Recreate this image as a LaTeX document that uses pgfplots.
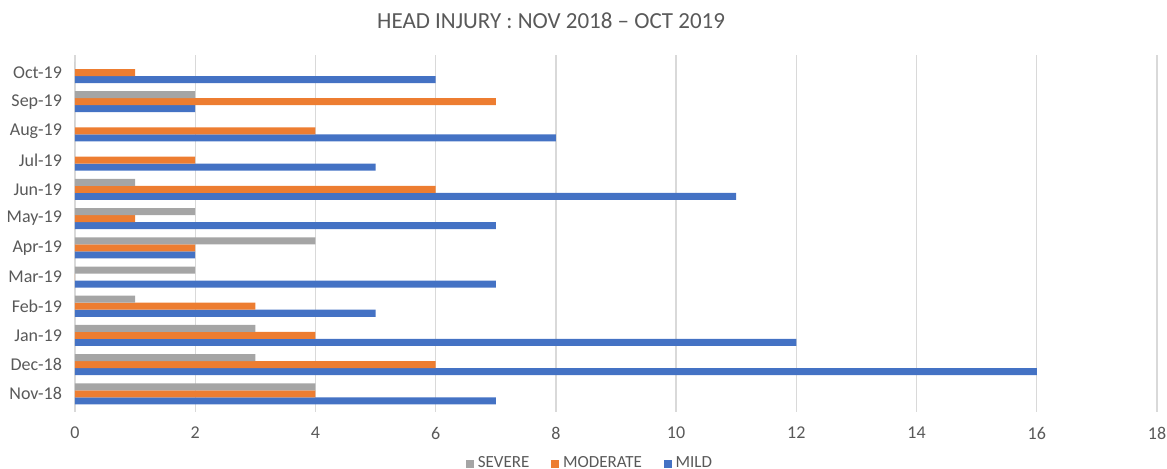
\documentclass[border=0pt]{standalone}
\usepackage{pgfplots}
\pgfplotsset{compat=1.18}
\usepackage{fontspec}
\setmainfont{Carlito}
\definecolor{cblue}{HTML}{4472C4}
\definecolor{corange}{HTML}{ED7D31}
\definecolor{cgray}{HTML}{A5A5A5}
\definecolor{tgray}{HTML}{595959}
\definecolor{ggray}{HTML}{D9D9D9}
\begin{document}
\begin{tikzpicture}
\useasboundingbox (-37.5pt,-28.5pt) rectangle (546pt,206pt);
\begin{axis}[
  at={(0,0)}, anchor=south west,
  scale only axis, width=541pt, height=178.5pt,
  xbar=0pt, bar width=0.24,
  xmin=0, xmax=18, ymin=-0.62, ymax=11.6,
  xtick={0,2,...,18},
  ytick={0,...,11},
  yticklabels={Nov-18,Dec-18,Jan-19,Feb-19,Mar-19,Apr-19,May-19,Jun-19,Jul-19,Aug-19,Sep-19,Oct-19},
  axis line style={draw=none},
  major tick length=0pt,
  xmajorgrids, grid style={color=ggray, line width=0.7pt},
  /pgf/number format/assume math mode=true,
  tick label style={font=\fontsize{9}{10}\selectfont, text=tgray},
  yticklabel style={xshift=-3pt},
  xticklabel style={yshift=-4pt},
  title={HEAD INJURY : NOV 2018 -- OCT 2019},
  title style={at={(0.44,1)}, anchor=center, yshift=11pt, font=\fontsize{11.5}{13}\selectfont, text=tgray},
  legend style={at={(0.477,-0.145)}, anchor=center, draw=none, fill=none,
    legend columns=-1, font=\fontsize{8.5}{10}\selectfont, text=tgray,
    /tikz/every even column/.append style={column sep=9pt},
    inner sep=0pt},
  legend image code/.code={\fill[#1,draw=none] (0pt,-1.9pt) rectangle (3.8pt,1.9pt);},
  reverse legend,
]
\addplot[fill=cblue, draw=none, bar shift=-0.24] coordinates {
 (7,0) (16,1) (12,2) (5,3) (7,4) (2,5) (7,6) (11,7) (5,8) (8,9) (2,10) (6,11)};
\addlegendentry{MILD}
\addplot[fill=corange, draw=none, bar shift=0] coordinates {
 (4,0) (6,1) (4,2) (3,3) (0,4) (2,5) (1,6) (6,7) (2,8) (4,9) (7,10) (1,11)};
\addlegendentry{MODERATE}
\addplot[fill=cgray, draw=none, bar shift=0.24] coordinates {
 (4,0) (3,1) (3,2) (1,3) (2,4) (4,5) (2,6) (1,7) (0,8) (0,9) (2,10) (0,11)};
\addlegendentry{SEVERE}
\end{axis}
\end{tikzpicture}
\end{document}
